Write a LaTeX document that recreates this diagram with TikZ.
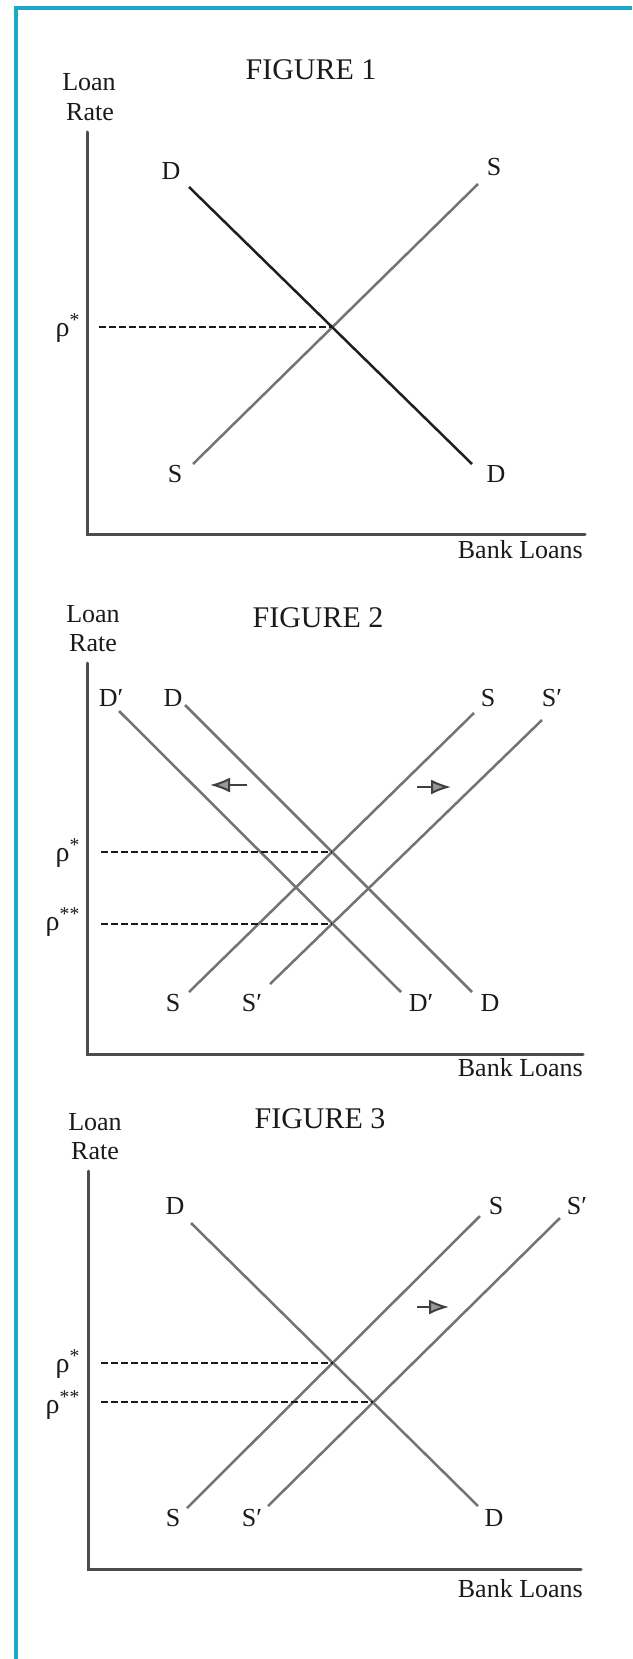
\documentclass[tikz,border=0pt]{standalone}
\usepackage{fontspec}
\setmainfont{Liberation Serif}
\usetikzlibrary{arrows.meta, positioning}
\definecolor{frameblue}{HTML}{1CA9C9}
\definecolor{ink}{HTML}{1A1A1A}

\begin{document}
\begin{tikzpicture}[x=1pt, y=-1pt]
        \tikzset{
            title/.style={font=\fontsize{30}{34}\selectfont, inner sep=0, anchor=base, text=ink},
            lbl/.style={font=\fontsize{26}{30}\selectfont, inner sep=0, anchor=base, text=ink},
            rate/.style={lbl, font=\fontsize{28}{32}\selectfont, anchor=base east},
            axis/.style={line width=3pt, draw=black!70, line cap=round},
            curve/.style={line width=2.5pt, draw=black!55},
            darkcurve/.style={line width=2.5pt, draw=black!88},
            guide/.style={line width=2pt, draw=ink, dash pattern=on 7pt off 3pt},
            shiftarrow/.style={-{Latex[length=20pt, width=15pt, fill=black!40]}, line width=2pt, draw=black!75}
        }
        \useasboundingbox (0,0) rectangle (632,1659);

        % Frame
        \draw[line width=4pt, frameblue] (16,1659) -- (16,8) -- (632,8);

        % ---------- Figure 1 ----------
        % Nodes
        \node[title] (t1) at (311,80) {FIGURE 1};
        \node[lbl] (loan1) at (89,91) {Loan};
        \node[lbl] (rate1) at (90,121) {Rate};
        \node[lbl, anchor=base east] (bank1) at (583,558) {Bank Loans};
        \coordinate (y1) at (87,132);
        \coordinate (o1) at (87,534);
        \coordinate (x1) at (585,534);
        \coordinate (D1a) at (189,187);
        \coordinate (D1b) at (472,464);
        \coordinate (S1a) at (193,464);
        \coordinate (S1b) at (478,184);
        \coordinate (E1) at (intersection of D1a--D1b and S1a--S1b);
        \coordinate (g1) at (99,0);
        \node[lbl] (D1top) at (171,179) {D};
        \node[lbl] (S1top) at (494,175) {S};
        \node[lbl] (S1bot) at (175,482) {S};
        \node[lbl] (D1bot) at (496,482) {D};
        \node[rate] (p1) at (80,336) {ρ\textsuperscript{*}};

        % Edges
        \draw[axis] (y1) -- (o1) -- (x1);
        \draw[curve] (S1a) -- (S1b);
        \draw[darkcurve] (D1a) -- (D1b);
        \draw[guide] (g1 |- E1) -- (E1);

        % ---------- Figure 2 ----------
        % Nodes
        \node[title] (t2) at (318,627) {FIGURE 2};
        \node[lbl] (loan2) at (93,622) {Loan};
        \node[lbl] (rate2) at (93,651) {Rate};
        \node[lbl, anchor=base east] (bank2) at (583,1076) {Bank Loans};
        \coordinate (y2) at (87,663);
        \coordinate (o2) at (87,1054);
        \coordinate (x2) at (583,1054);
        \coordinate (Dp2a) at (119,711);
        \coordinate (Dp2b) at (401,992);
        \coordinate (D2a) at (185,705);
        \coordinate (D2b) at (472,992);
        \coordinate (S2a) at (189,992);
        \coordinate (S2b) at (474,713);
        \coordinate (Sp2a) at (270,984);
        \coordinate (Sp2b) at (542,720);
        \coordinate (E2) at (intersection of D2a--D2b and S2a--S2b);
        \coordinate (F2) at (intersection of Dp2a--Dp2b and Sp2a--Sp2b);
        \coordinate (g2) at (101,0);
        \node[lbl] (Dp2top) at (111,706) {D′};
        \node[lbl] (D2top) at (173,706) {D};
        \node[lbl] (S2top) at (488,706) {S};
        \node[lbl] (Sp2top) at (552,706) {S′};
        \node[lbl] (S2bot) at (173,1011) {S};
        \node[lbl] (Sp2bot) at (252,1011) {S′};
        \node[lbl] (Dp2bot) at (421,1011) {D′};
        \node[lbl] (D2bot) at (490,1011) {D};
        \node[rate] (p2) at (80,861) {ρ\textsuperscript{*}};
        \node[rate] (pp2) at (80,930) {ρ\textsuperscript{**}};
        \coordinate (a2l) at (247,785);
        \coordinate (a2lt) at (210,785);
        \coordinate (a2r) at (417,787);
        \coordinate (a2rt) at (451,787);

        % Edges
        \draw[axis] (y2) -- (o2) -- (x2);
        \draw[curve] (Dp2a) -- (Dp2b);
        \draw[curve] (D2a) -- (D2b);
        \draw[curve] (S2a) -- (S2b);
        \draw[curve] (Sp2a) -- (Sp2b);
        \draw[guide] (g2 |- E2) -- (E2);
        \draw[guide] (g2 |- F2) -- (F2);
        \draw[shiftarrow] (a2l) -- (a2lt);
        \draw[shiftarrow] (a2r) -- (a2rt);

        % ---------- Figure 3 ----------
        % Nodes
        \node[title] (t3) at (320,1128) {FIGURE 3};
        \node[lbl] (loan3) at (95,1130) {Loan};
        \node[lbl] (rate3) at (95,1159) {Rate};
        \node[lbl, anchor=base east] (bank3) at (583,1597) {Bank Loans};
        \coordinate (y3) at (88,1171);
        \coordinate (o3) at (88,1569);
        \coordinate (x3) at (581,1569);
        \coordinate (D3a) at (191,1223);
        \coordinate (D3b) at (478,1506);
        \coordinate (S3a) at (187,1508);
        \coordinate (S3b) at (480,1216);
        \coordinate (Sp3a) at (268,1506);
        \coordinate (Sp3b) at (560,1218);
        \coordinate (E3) at (intersection of D3a--D3b and S3a--S3b);
        \coordinate (F3) at (intersection of D3a--D3b and Sp3a--Sp3b);
        \coordinate (g3) at (101,0);
        \node[lbl] (D3top) at (175,1214) {D};
        \node[lbl] (S3top) at (496,1214) {S};
        \node[lbl] (Sp3top) at (577,1214) {S′};
        \node[lbl] (S3bot) at (173,1526) {S};
        \node[lbl] (Sp3bot) at (252,1526) {S′};
        \node[lbl] (D3bot) at (494,1526) {D};
        \node[rate] (p3) at (80,1372) {ρ\textsuperscript{*}};
        \node[rate] (pp3) at (80,1413) {ρ\textsuperscript{**}};
        \coordinate (a3) at (417,1307);
        \coordinate (a3t) at (449,1307);

        % Edges
        \draw[axis] (y3) -- (o3) -- (x3);
        \draw[curve] (D3a) -- (D3b);
        \draw[curve] (S3a) -- (S3b);
        \draw[curve] (Sp3a) -- (Sp3b);
        \draw[guide] (g3 |- E3) -- (E3);
        \draw[guide] (g3 |- F3) -- (F3);
        \draw[shiftarrow] (a3) -- (a3t);
\end{tikzpicture}
\end{document}
